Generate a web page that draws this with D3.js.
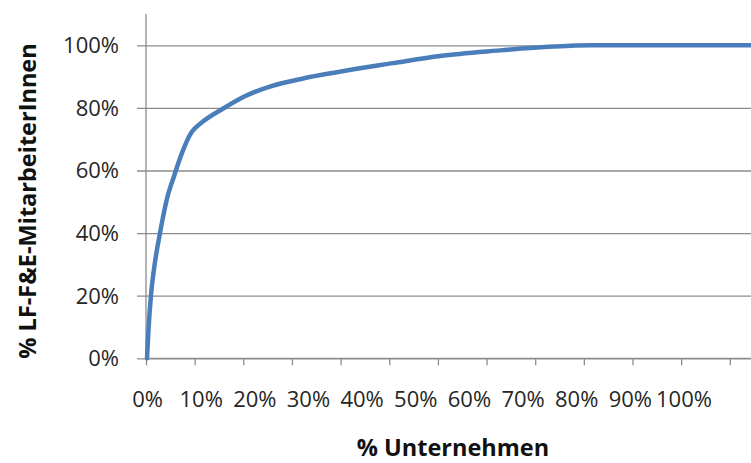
<!DOCTYPE html>
<html>
<head>
<meta charset="utf-8">
<script src="https://cdn.jsdelivr.net/npm/d3@7"></script>
<style>
  html, body { margin: 0; padding: 0; background: #fff; }
  svg { display: block; font-family: "Open Sans", sans-serif; }
</style>
</head>
<body>
<svg id="chart" width="751" height="463"></svg>
<script>
// Cumulative share of companies (x, %) vs. cumulative share of R&D staff (y, %)
const companyShare = [0, 0.24, 0.75, 1.36, 2.42, 3.67, 5.1, 6.47, 8.33, 9.88, 14.2, 17.95, 22.9, 29.1, 35.4, 45.9, 54.6, 65.2, 75.7, 82.6, 112.6];
const staffShare   = [0, 8, 20.4, 29.2, 40, 50.6, 58.5, 65.4, 72.3, 74.9, 79.8, 83.5, 86.8, 89.4, 91.4, 94.3, 96.6, 98.3, 99.6, 100, 100];

const xTickLabels = [0, 10, 20, 30, 40, 50, 60, 70, 80, 90, 100];
const yTickLabels = [0, 20, 40, 60, 80, 100];
const categoryTicks = d3.range(0, 13);

const xTitle = "% Unternehmen";
const yTitle = "% LF-F&E-MitarbeiterInnen";

const svg = d3.select("#chart");
const W = 751;
const plotLeft = 146, plotRight = W, plotTop = 14, plotBottom = 358.3;

const x = d3.scaleLinear().domain([0, 100]).range([147, 683.5]);
const y = d3.scaleLinear().domain([0, 110]).range([plotBottom, plotTop]);
const tickScale = d3.scaleLinear().domain([0, 12]).range([plotLeft, plotLeft + 12 * 48.65]);

const gridColor = "#8c8c8c";
const textColor = "#262626";

// horizontal gridlines with outward tick marks
const yAxis = d3.axisLeft(y)
  .tickValues(yTickLabels)
  .tickSize(-(plotRight - plotLeft))
  .tickFormat(() => "");
const gy = svg.append("g").attr("transform", `translate(${plotLeft},0)`).call(yAxis);
gy.select(".domain").remove();
gy.selectAll(".tick line").attr("stroke", gridColor).attr("stroke-width", 1.3).attr("x1", -9);

// y tick labels
svg.append("g").selectAll("text").data(yTickLabels).join("text")
  .attr("x", 119).attr("y", d => y(d)).attr("dy", "0.36em")
  .attr("text-anchor", "end").attr("font-size", 22).attr("fill", textColor)
  .text(d => d + "%");

// vertical axis line
svg.append("line").attr("x1", plotLeft).attr("x2", plotLeft)
  .attr("y1", plotTop).attr("y2", plotBottom)
  .attr("stroke", gridColor).attr("stroke-width", 1.3);

// x axis line and category tick marks
const tickAxis = d3.axisBottom(tickScale).tickValues(categoryTicks).tickSize(7).tickFormat(() => "");
const gt = svg.append("g").attr("transform", `translate(0,${plotBottom})`).call(tickAxis);
gt.select(".domain").remove();
gt.selectAll(".tick line").attr("stroke", gridColor).attr("stroke-width", 1.3);
svg.append("line").attr("x1", plotLeft).attr("x2", plotRight)
  .attr("y1", plotBottom).attr("y2", plotBottom)
  .attr("stroke", gridColor).attr("stroke-width", 1.3);

// x tick labels
const xAxis = d3.axisBottom(x).tickValues(xTickLabels).tickSize(0).tickPadding(0)
  .tickFormat(d => d + "%");
const gx = svg.append("g").attr("transform", `translate(0,407)`).call(xAxis);
gx.select(".domain").remove();
gx.selectAll("text").attr("dy", 0).attr("font-size", 22).attr("fill", textColor)
  .attr("font-family", "Open Sans, sans-serif");

// curve
const pts = companyShare.map((c, i) => [c, staffShare[i]]);
const line = d3.line().x(d => x(d[0])).y(d => y(d[1])).curve(d3.curveMonotoneX);
svg.append("path").datum(pts)
  .attr("d", line)
  .attr("fill", "none")
  .attr("stroke", "#4a7ebb")
  .attr("stroke-width", 4.5)
  .attr("stroke-linejoin", "round")
  .attr("stroke-linecap", "round");

// axis titles
svg.append("text")
  .attr("x", 453).attr("y", 456)
  .attr("text-anchor", "middle").attr("font-size", 23.5).attr("font-weight", "bold")
  .attr("fill", "#111").text(xTitle);

svg.append("text")
  .attr("transform", "translate(36,201) rotate(-90)")
  .attr("text-anchor", "middle").attr("font-size", 23.5).attr("font-weight", "bold")
  .attr("fill", "#111").text(yTitle);
</script>
</body>
</html>
